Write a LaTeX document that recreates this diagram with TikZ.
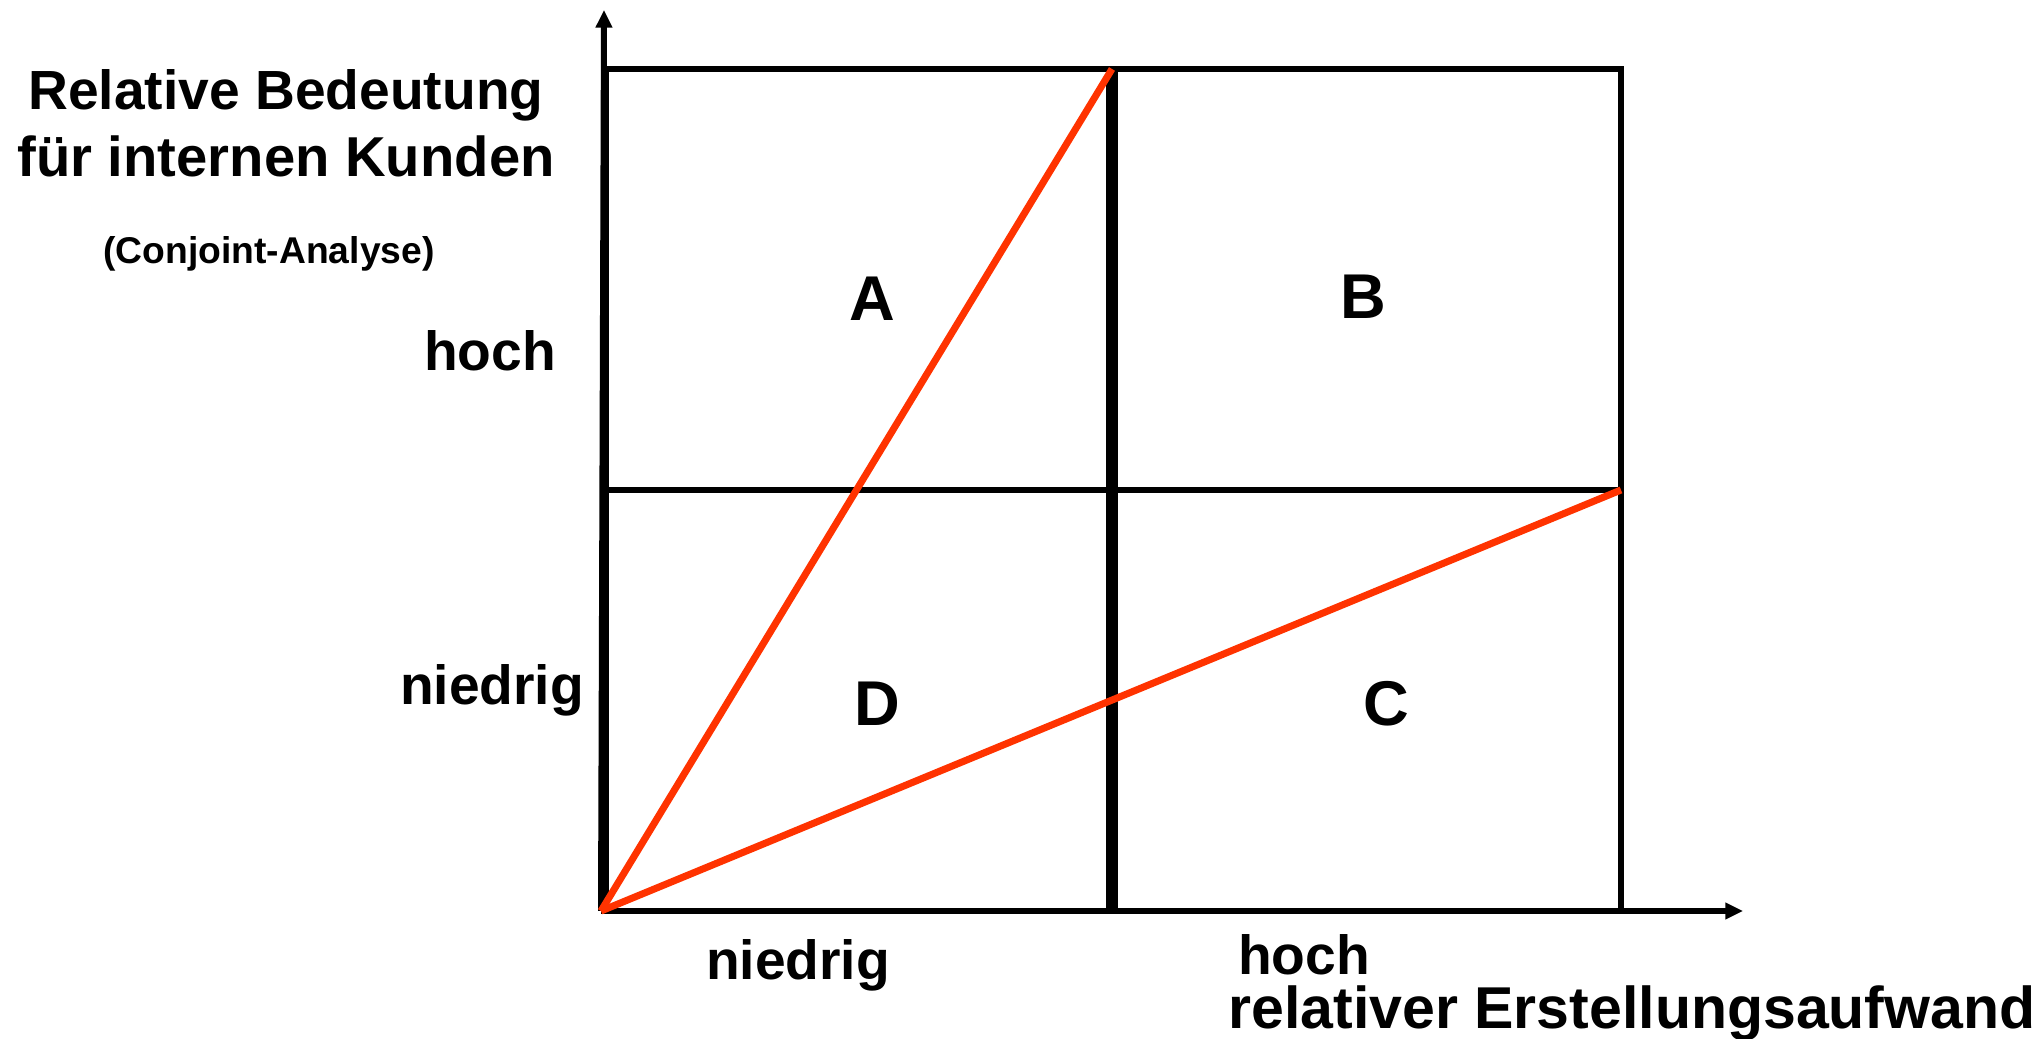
\documentclass[tikz,border=0pt]{standalone}
\usepackage{fontspec}
\setmainfont{Liberation Sans}
\usetikzlibrary{positioning,arrows.meta}
\definecolor{matrixred}{RGB}{255,51,0}

\begin{document}
\begin{tikzpicture}[
            thinline/.style={draw,line width=1.9pt},
            thickline/.style={draw,line width=3.4pt},
            diagline/.style={draw=matrixred,line width=2pt},
            axisline/.style={draw,line width=1.7pt,
                             -{Triangle[length=5pt,width=4.5pt]}},
            lbl/.style={font=\bfseries\fontsize{15.7}{19}\selectfont},
            quad/.style={font=\bfseries\fontsize{18}{22}\selectfont}]
        \useasboundingbox (0,0) rectangle (20.4,10.39);
        % corners of the grid
        \coordinate (O) at (6.01,1.28);
        \coordinate (ytip) at (6.04,10.29);
        \coordinate (xtip) at (17.43,1.28);
        \coordinate (tl) at (6.06,9.70);
        \coordinate (tm) at (11.12,9.70);
        \coordinate (tr) at (16.21,9.70);
        \coordinate (ml) at (6.06,5.49);
        \coordinate (mr) at (16.21,5.49);
        \coordinate (bl) at (6.06,1.28);
        \coordinate (bm) at (11.12,1.28);
        \coordinate (br) at (16.21,1.28);
        % grid
        \draw[thinline] (bl) -- (tl) -- (tr) -- (br);
        \draw[thinline] (ml) -- (mr);
        \draw[thickline] (tm) -- (bm);
        % axes
        \draw[axisline] (O) -- (ytip);
        \draw[axisline] (O) -- (xtip);
        % diagonals
        \draw[diagline] (O) -- (tm);
        \draw[diagline] (O) -- (mr);
        % labels
        \node[lbl,align=center] (ytitle) at (2.86,9.16)
              {Relative Bedeutung\\\fontsize{16}{19}\selectfont für internen Kunden};
        \node[font=\bfseries\fontsize{10.6}{13}\selectfont] (ysub) at (2.69,7.85)
              {(Conjoint-Analyse)};
        \node[lbl] (yhigh) at (4.90,6.88) {hoch};
        \node[lbl] (ylow) at (4.92,3.49) {niedrig};
        \node[lbl] (xlow) at (7.98,0.74) {niedrig};
        \node[lbl,inner sep=0pt] (xhigh) at (13.04,0.84) {hoch};
        \node[font=\bfseries\fontsize{16.8}{20}\selectfont,inner sep=0pt]
              (xtitle) at (16.32,0.26) {relativer Erstellungsaufwand};
        \node[quad] (qA) at (8.72,7.40) {A};
        \node[quad] (qB) at (13.63,7.42) {B};
        \node[quad] (qD) at (8.77,3.35) {D};
        \node[quad] (qC) at (13.86,3.35) {C};
\end{tikzpicture}
\end{document}
